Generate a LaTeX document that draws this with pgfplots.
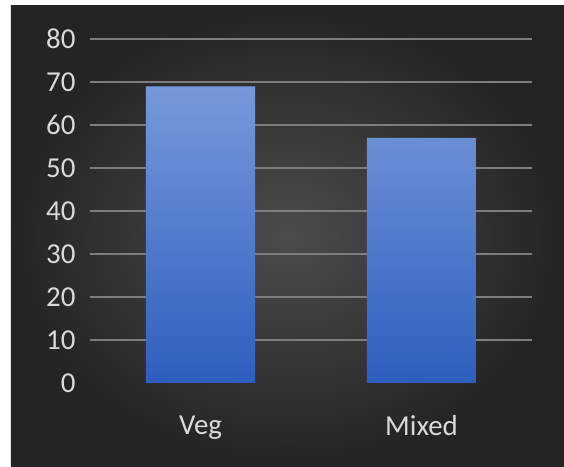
\documentclass[border=0pt]{standalone}
\usepackage{pgfplots}
\pgfplotsset{compat=1.18}
\usepackage{fontspec}
\setmainfont{Carlito}
\definecolor{lbl}{RGB}{217,217,217}
\definecolor{gridc}{RGB}{125,125,125}
\definecolor{bartop}{RGB}{118,153,218}
\definecolor{barbot}{RGB}{46,94,190}
\definecolor{bgin}{RGB}{76,76,76}
\definecolor{bgout}{RGB}{36,36,36}
\begin{document}
\begin{tikzpicture}[x=1bp,y=1bp]
\useasboundingbox (-90,-84) rectangle (474,383);
\fill[white] (-90,-84) rectangle (474,383);
\shade[inner color=bgin, outer color=bgout] (-79,-84) rectangle (474,377);
\begin{axis}[
  at={(0,0)}, anchor=south west,
  scale only axis,
  width=442bp, height=344bp,
  xmin=-0.5, xmax=1.5,
  ymin=0, ymax=80,
  xtick={0,1}, xticklabels={Veg,Mixed},
  ytick={10,20,...,80},
  extra y ticks={0},
  extra y tick style={grid=none},
  ymajorgrids,
  grid style={gridc, line width=2.2bp},
  axis line style={draw=none},
  major tick style={draw=none},
  tick style={draw=none},
  /pgf/number format/assume math mode=true,
  ticklabel style={font=\fontsize{29}{29}\selectfont, text=lbl},
  yticklabel style={anchor=east, xshift=-11bp},
  xticklabel style={anchor=north, yshift=-29bp},
  clip=false,
]
\addplot[ybar, bar width=0.495, draw=none, top color=bartop, bottom color=barbot]
  coordinates {(0,69) (1,57)};
\end{axis}
\end{tikzpicture}
\end{document}
